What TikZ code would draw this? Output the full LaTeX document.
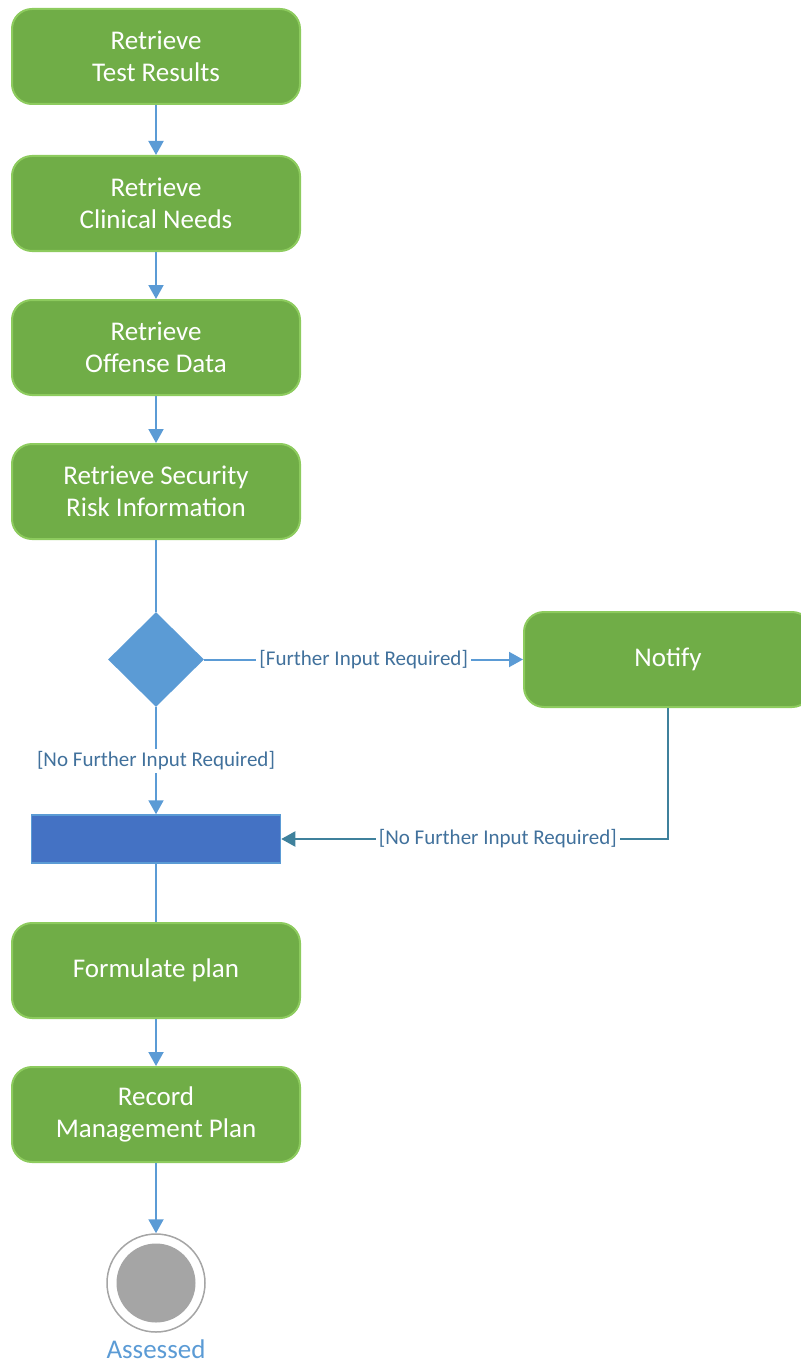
\documentclass[tikz,border=0pt]{standalone}
\usepackage{fontspec}
\setmainfont{Carlito}
\usetikzlibrary{arrows.meta, shapes.geometric}

\definecolor{actgreen}{HTML}{70AD47}
\definecolor{actborder}{HTML}{8DCB5E}
\definecolor{flowblue}{HTML}{5B9BD5}
\definecolor{barblue}{HTML}{4472C4}
\definecolor{guardtext}{HTML}{41719C}
\definecolor{backflow}{HTML}{3F819C}
\definecolor{endgray}{HTML}{A5A5A5}

\begin{document}
\begin{tikzpicture}[x=0.5pt, y=-0.5pt,
  activity/.style={draw=actborder, line width=1pt, fill=actgreen, rounded corners=10pt,
    minimum width=144pt, minimum height=47.5pt, align=center, text=white,
    font=\fontsize{13.5}{16}\selectfont},
  decision/.style={diamond, fill=flowblue, minimum width=48pt, minimum height=47.5pt, inner sep=0pt},
  joinbar/.style={draw=flowblue, line width=0.75pt, fill=barblue, minimum width=124.5pt, minimum height=24pt, inner sep=0pt},
  final/.style={circle, draw=endgray, line width=0.75pt, fill=white, minimum size=49pt, inner sep=0pt},
  flow/.style={draw=flowblue, line width=1pt, -{Triangle[length=7pt,width=7.5pt]}},
  plain/.style={draw=flowblue, line width=1pt},
  guard/.style={fill=white, inner sep=1.5pt, text=guardtext, font=\fontsize{10.5}{12}\selectfont}
]
\useasboundingbox (0,0) rectangle (801,1364);
%\draw[step=50,gray,very thin] (0,0) grid (801,1364); %background grid

\node[activity] (tests) at (156,56.5) {Retrieve\\Test Results};
\node[activity] (needs) at (156,203.5) {Retrieve\\Clinical Needs};
\node[activity] (offense) at (156,347.5) {Retrieve\\Offense Data};
\node[activity] (risk) at (156,491.5) {Retrieve Security\\Risk Information};

\node[decision] (check) at (156,659.5) {};
\node[activity] (notify) at (668,659.5) {Notify};
\node[joinbar] (merge) at (156,839) {};

\node[activity] (plan) at (156,970.5) {Formulate plan};
\node[activity] (record) at (156,1114.5) {Record\\Management Plan};

\node[final] (done) at (156,1283) {};
\node[circle, fill=endgray, minimum size=39.5pt, inner sep=0pt] (donedot) at (done) {};
\node[inner sep=0pt, text=flowblue, font=\fontsize{13.5}{16}\selectfont] (assessed) at (156,1349) {Assessed};

\draw[flow] (tests) -- (needs);
\draw[flow] (needs) -- (offense);
\draw[flow] (offense) -- (risk);
\draw[plain] (risk) -- (check);
\draw[flow] (check) -- node[guard] {[Further Input Required]} (notify);
\draw[flow] (check) -- node[guard] {[No Further Input Required]} (merge);
\draw[flow, draw=backflow] (notify) |- node[guard, pos=0.72] {[No Further Input Required]} (merge);
\draw[plain] (merge) -- (plan);
\draw[flow] (plan) -- (record);
\draw[flow] (record) -- (done);
\end{tikzpicture}
\end{document}
